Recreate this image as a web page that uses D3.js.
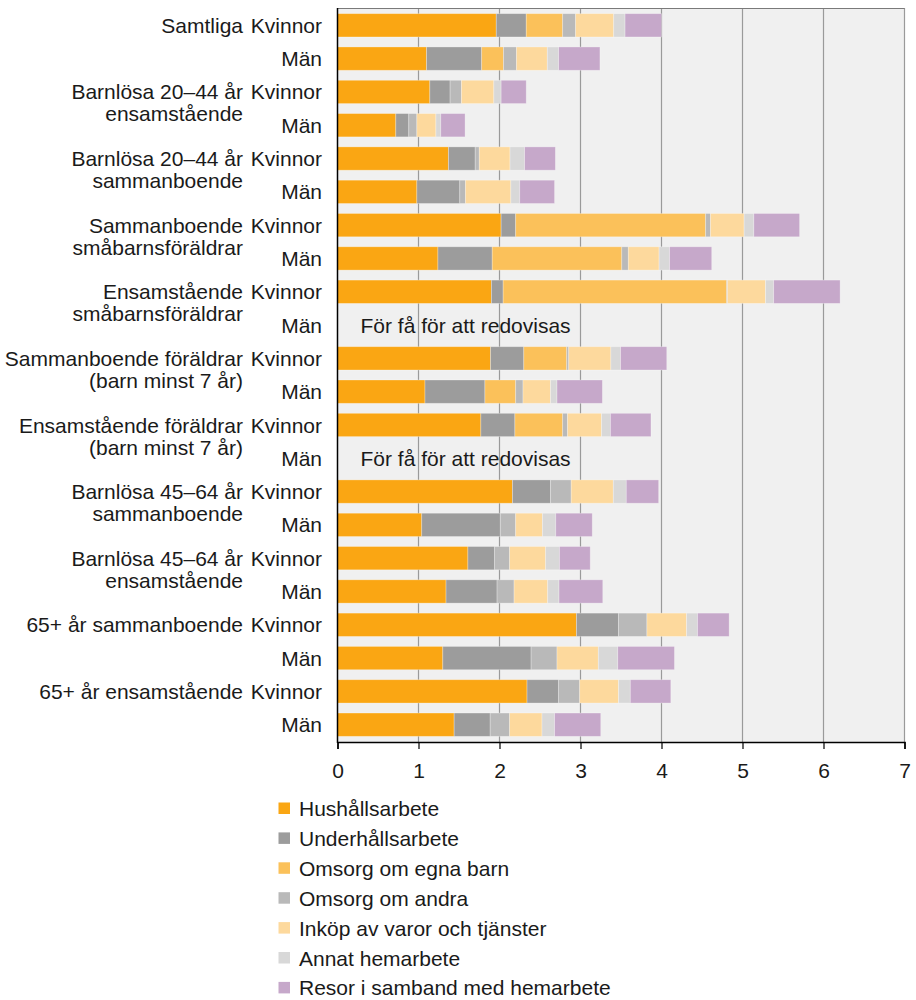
<!DOCTYPE html>
<html>
<head>
<meta charset="utf-8">
<script src="https://cdn.jsdelivr.net/npm/d3@7"></script>
<style>
  html, body { margin: 0; padding: 0; background: #fff; }
  svg { display: block; font-family: "Liberation Sans", Arial, sans-serif; }
</style>
</head>
<body>
<svg id="chart" width="916" height="1000"></svg>
<script>
// ---- Data ----
const groupLabels = [
  ["Samtliga"],
  ["Barnlösa 20–44 år", "ensamstående"],
  ["Barnlösa 20–44 år", "sammanboende"],
  ["Sammanboende", "småbarnsföräldrar"],
  ["Ensamstående", "småbarnsföräldrar"],
  ["Sammanboende föräldrar", "(barn minst 7 år)"],
  ["Ensamstående föräldrar", "(barn minst 7 år)"],
  ["Barnlösa 45–64 år", "sammanboende"],
  ["Barnlösa 45–64 år", "ensamstående"],
  ["65+ år sammanboende"],
  ["65+ år ensamstående"]
];
const genders = ["Kvinnor", "Män"];
const seriesNames = [
  "Hushållsarbete",
  "Underhållsarbete",
  "Omsorg om egna barn",
  "Omsorg om andra",
  "Inköp av varor och tjänster",
  "Annat hemarbete",
  "Resor i samband med hemarbete"
];
const seriesColors = ["#FAA613", "#9C9C9C", "#FBC15A", "#B9B9B9", "#FDD99D", "#D8D8D8", "#C6A8CA"];

// values per row (Kvinnor, Män alternating per group); null = too few to report
const hushall  = [1.96,1.10, 1.14,0.72, 1.37,0.98, 2.02,1.24, 1.90,null, 1.89,1.08, 1.77,null, 2.16,1.04, 1.61,1.34, 2.95,1.30, 2.34,1.44];
const underhall= [0.37,0.68, 0.25,0.16, 0.33,0.53, 0.18,0.67, 0.145,null, 0.41,0.74, 0.42,null, 0.47,0.97, 0.33,0.63, 0.52,1.09, 0.39,0.445];
const egnaBarn = [0.45,0.27, 0,0, 0,0, 2.345,1.60, 2.76,null, 0.53,0.38, 0.59,null, 0,0, 0,0, 0,0, 0,0];
const andra    = [0.16,0.16, 0.14,0.10, 0.05,0.07, 0.06,0.08, 0.01,null, 0.025,0.09, 0.06,null, 0.255,0.19, 0.185,0.21, 0.35,0.32, 0.26,0.24];
const inkop    = [0.47,0.38, 0.40,0.235, 0.38,0.56, 0.415,0.38, 0.47,null, 0.52,0.34, 0.42,null, 0.52,0.33, 0.445,0.415, 0.49,0.51, 0.48,0.40];
const annat    = [0.14,0.14, 0.09,0.06, 0.18,0.11, 0.12,0.13, 0.10,null, 0.12,0.08, 0.11,null, 0.16,0.165, 0.17,0.14, 0.135,0.24, 0.145,0.155];
const resor    = [0.45,0.51, 0.31,0.30, 0.38,0.43, 0.565,0.52, 0.82,null, 0.57,0.56, 0.50,null, 0.40,0.45, 0.38,0.54, 0.39,0.70, 0.50,0.57];
const missingText = "För få för att redovisas";
const xTicks = [0,1,2,3,4,5,6,7];

// ---- Build table ----
const seriesValues = [hushall, underhall, egnaBarn, andra, inkop, annat, resor];
const rows = [];
groupLabels.forEach((g, gi) => {
  genders.forEach((gen, k) => {
    const idx = gi * 2 + k;
    const r = { id: idx, group: g, gender: gen, first: k === 0 };
    seriesNames.forEach((s, si) => { r[s] = seriesValues[si][idx]; });
    r.missing = hushall[idx] === null;
    rows.push(r);
  });
});

// ---- Layout ----
const svg = d3.select("#chart");
const plotL = 337.5, plotR = 904.5, plotT = 8, plotB = 742;
const fontSize = 21;
const textColor = "#1a1a1a";

const x = d3.scaleLinear().domain([0, 7]).range([plotL, plotR]);
const y = d3.scaleBand().domain(rows.map(r => r.id)).range([plotT, plotB])
  .paddingInner(0.3).paddingOuter(0.17);
const color = d3.scaleOrdinal().domain(seriesNames).range(seriesColors);

// background
svg.append("rect").attr("x", plotL).attr("y", plotT)
  .attr("width", plotR - plotL).attr("height", plotB - plotT).attr("fill", "#F0F0F0");

// gridlines
svg.append("g").selectAll("line").data(xTicks.filter(t => t > 0)).join("line")
  .attr("x1", d => x(d)).attr("x2", d => x(d))
  .attr("y1", plotT).attr("y2", plotB)
  .attr("stroke", "#9A9A9A").attr("stroke-width", 1.2);

// top border
svg.append("line").attr("x1", plotL).attr("x2", plotR).attr("y1", plotT + 0.5).attr("y2", plotT + 0.5)
  .attr("stroke", "#7A7A7A").attr("stroke-width", 1.2);

// stacked bars
const stack = d3.stack().keys(seriesNames).value((d, k) => d[k] || 0);
const stacked = stack(rows.filter(r => !r.missing));
svg.append("g").selectAll("g").data(stacked).join("g")
  .attr("fill", d => color(d.key))
  .selectAll("rect").data(d => d).join("rect")
  .attr("x", d => x(d[0]))
  .attr("width", d => Math.max(0, x(d[1]) - x(d[0])))
  .attr("y", d => y(d.data.id))
  .attr("height", y.bandwidth())
  .attr("stroke", "#ffffff").attr("stroke-opacity", 0.35).attr("stroke-width", 0.8);

// missing text
svg.append("g").selectAll("text").data(rows.filter(r => r.missing)).join("text")
  .attr("x", plotL + 23).attr("y", d => y(d.id) + y.bandwidth() / 2)
  .attr("dy", "0.36em")
  .attr("font-size", fontSize).attr("fill", textColor)
  .text(missingText);

// x axis
const xAxis = d3.axisBottom(x).tickValues(xTicks).tickSize(7).tickPadding(14).tickFormat(d3.format("d"));
const gx = svg.append("g").attr("transform", `translate(0,${plotB})`).call(xAxis);
gx.select(".domain").attr("stroke", "#000").attr("stroke-width", 1.5);
gx.selectAll(".tick line").attr("stroke", "#000").attr("stroke-width", 1.2);
gx.selectAll(".tick text").attr("font-size", fontSize).attr("fill", textColor)
  .attr("font-family", "Liberation Sans, Arial, sans-serif");

// left axis line
svg.append("line").attr("x1", plotL).attr("x2", plotL).attr("y1", plotT).attr("y2", plotB + 1)
  .attr("stroke", "#000").attr("stroke-width", 1.5);

// gender labels
svg.append("g").selectAll("text").data(rows).join("text")
  .attr("x", 322).attr("y", d => y(d.id) + y.bandwidth() / 2)
  .attr("dy", "0.36em").attr("text-anchor", "end")
  .attr("font-size", fontSize).attr("fill", textColor)
  .text(d => d.gender);

// group labels
const gl = svg.append("g").selectAll("text").data(rows.filter(r => r.first)).join("text")
  .attr("x", 243).attr("y", d => y(d.id) + y.bandwidth() / 2 + 0.36 * fontSize)
  .attr("text-anchor", "end")
  .attr("font-size", fontSize).attr("fill", textColor);
gl.selectAll("tspan").data(d => d.group).join("tspan")
  .attr("x", 243).attr("dy", (d, i) => i === 0 ? 0 : 22)
  .text(d => d);

// legend
const legend = svg.append("g").selectAll("g").data(seriesNames).join("g")
  .attr("transform", (d, i) => `translate(278.5,${808.5 + i * 29.9})`);
legend.append("rect").attr("x", 0).attr("y", -6).attr("width", 11.5).attr("height", 11.5)
  .attr("fill", d => color(d));
legend.append("text").attr("x", 20.5).attr("y", 0).attr("dy", "0.36em")
  .attr("font-size", fontSize).attr("fill", textColor).text(d => d);
</script>
</body>
</html>
